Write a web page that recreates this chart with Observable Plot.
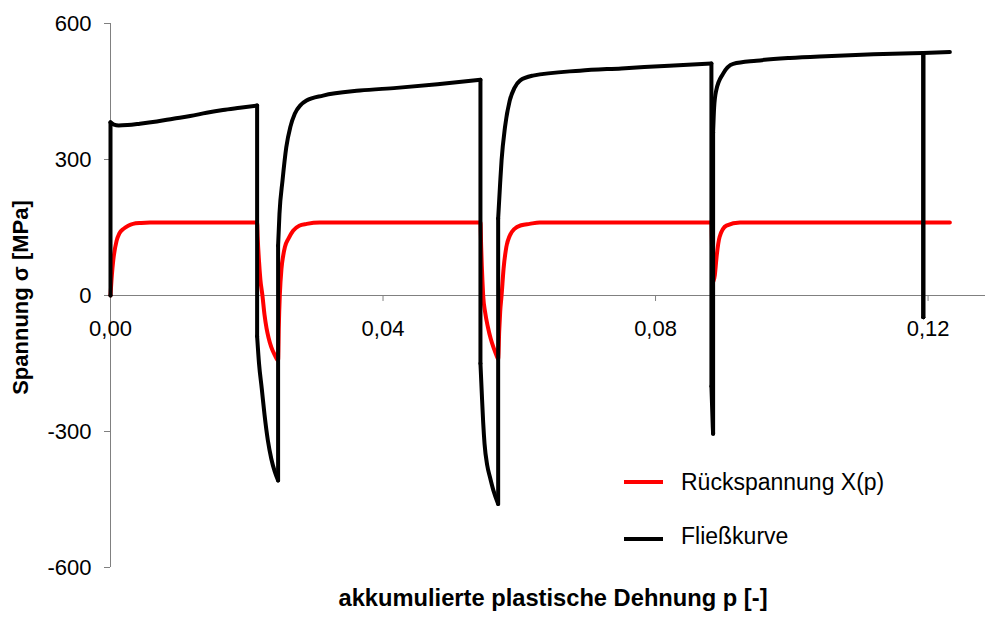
<!DOCTYPE html>
<html><head><meta charset="utf-8">
<script src="https://cdn.jsdelivr.net/npm/d3@7"></script>
<script src="https://cdn.jsdelivr.net/npm/@observablehq/plot@0.6"></script>
<style>
body{margin:0;background:#fff;font-family:"Liberation Sans",Arial,sans-serif;}
#wrap{position:relative;width:988px;height:619px;}
.sw{position:absolute;left:624px;width:39px;height:4px;}
.lt{position:absolute;left:681px;font-size:23px;line-height:26px;color:#000;white-space:nowrap;}
</style></head><body>
<div id="wrap"></div>
<script>
const xTicks = [0, 0.04, 0.08, 0.12];
const yTicks = [-600, -300, 0, 300, 600];
const seriesNames = ["Rückspannung X(p)", "Fließkurve"];

const pRueck = [
  0, 0.0002, 0.0004, 0.0009, 0.0013, 0.0019, 0.0026, 0.0033, 0.0045, 0.0058, 0.02152,
  0.0216, 0.0218, 0.0220, 0.0223, 0.0226, 0.0229, 0.0232, 0.0236, 0.0241, 0.0246,
  0.0247, 0.02485, 0.0251, 0.02535, 0.0256, 0.0261, 0.0268, 0.0277, 0.0288, 0.0307, 0.0543,
  0.0544, 0.0545, 0.0546, 0.0547, 0.0550, 0.0554, 0.0558, 0.0562, 0.0566, 0.0569,
  0.05705, 0.0572, 0.0574, 0.0577, 0.0581, 0.0586, 0.0593, 0.0603, 0.0615, 0.0630, 0.0882,
  0.0883, 0.0884, 0.08845, 0.0887, 0.08895, 0.0894, 0.0904, 0.0924, 0.1232
];
const sRueck = [
  0, 45, 77, 121, 137, 147, 154, 158, 160, 161, 161,
  130, 75, 35, 0, -42, -72, -93, -114, -131, -143,
  -70, 0, 60, 88, 107, 125, 143, 154, 158, 161, 161,
  110, 65, 30, 0, -38, -70, -95, -114, -130, -140,
  -80, -35, 0, 60, 107, 132, 147, 155, 158, 161, 161,
  100, 55, 30, 45, 84, 129, 154, 161, 161
];

const pFliess = [
  0, 0, 0.0005, 0.0012, 0.0025, 0.0043, 0.0068, 0.0092, 0.0117, 0.0141, 0.0165, 0.019, 0.02152,
  0.02152, 0.0218, 0.0222, 0.0226, 0.0231, 0.0236, 0.0241, 0.0246,
  0.0246, 0.0248, 0.02525, 0.0258, 0.0264, 0.02705, 0.0279, 0.02877, 0.0312, 0.0366, 0.042, 0.048, 0.0543,
  0.0543, 0.0545, 0.0547, 0.0549, 0.0553, 0.0557, 0.0562, 0.0569,
  0.0569, 0.0572, 0.0574, 0.0579, 0.0586, 0.0593, 0.0601, 0.062, 0.0689, 0.075, 0.082, 0.0882,
  0.0882, 0.0884, 0.08845, 0.08845, 0.0886, 0.0889, 0.0899, 0.0914, 0.0948, 0.0997, 0.105, 0.112, 0.1193,
  0.1193, 0.1193, 0.1232
];
const sFliess = [
  0, 382, 377, 375, 376, 379, 384, 390, 396, 403, 409, 414, 419,
  -90, -150, -205, -262, -320, -360, -388, -408,
  110, 180, 254, 327, 372, 401, 420, 430, 441, 452, 458, 466, 476,
  -150, -217, -280, -327, -375, -401, -430, -460,
  170, 250, 298, 371, 430, 458, 474, 485, 496, 501, 507, 512,
  -200, -290, -305, 360, 415, 452, 489, 511, 518, 524, 528, 532, 535,
  -48, 535, 537
];

// Split a series into monotone pieces at vertical (elastic) jumps so that each
// piece can be drawn with a smooth monotone curve.
function pieces(ps, ss) {
  const out = [];
  let seg = 0;
  for (let i = 0; i < ps.length; i++) {
    if (i > 0 && ps[i] === ps[i - 1]) {
      seg++;
      out.push({p: ps[i - 1], s: ss[i - 1], seg});
      out.push({p: ps[i], s: ss[i], seg});
      seg++;
    }
    out.push({p: ps[i], s: ss[i], seg});
  }
  return out;
}
const rueck = pieces(pRueck, sRueck);
const fliess = pieces(pFliess, sFliess);
const axisGray = "#808080";

const chart = Plot.plot({
  width: 988, height: 619,
  marginLeft: 110, marginRight: 3, marginTop: 23, marginBottom: 52,
  style: {fontFamily: "'Liberation Sans', Arial, sans-serif", fontSize: "22px", background: "#fff", color: "#000"},
  x: {domain: [0, 0.12843], axis: null},
  y: {domain: [-600, 600], axis: null},
  marks: [
    Plot.ruleY([0], {stroke: axisGray, strokeWidth: 1}),
    Plot.ruleX([0], {y1: -600, y2: 600, stroke: axisGray, strokeWidth: 1}),
    Plot.ruleX(xTicks.filter(d => d > 0), {x: d => d, y1: 0, y2: -13.2, stroke: axisGray, strokeWidth: 1}),
    Plot.axisY(yTicks, {anchor: "left", tickSize: 6, tickPadding: 13, stroke: axisGray, fill: "#000", fontSize: 22, tickFormat: d => String(d), label: null}),
    Plot.text(xTicks, {x: d => d, y: 0, dy: 33, text: d => d.toFixed(2).replace(".", ","), fontSize: 22, fill: "#000"}),
    Plot.line(rueck, {x: "p", y: "s", z: "seg", stroke: "#ff0000", strokeWidth: 4, curve: "monotone-x"}),
    Plot.line(fliess, {x: "p", y: "s", z: "seg", stroke: "#000000", strokeWidth: 4, curve: "monotone-x"}),
    Plot.text(["akkumulierte plastische Dehnung p [-]"], {frameAnchor: "bottom", dx: 5, dy: 38, fontWeight: "bold", fontSize: 23.7, fill: "#000"}),
    Plot.text(["Spannung σ [MPa]"], {frameAnchor: "left", textAnchor: "middle", dx: -90, dy: 2, rotate: -90, fontWeight: "bold", fontSize: 22, fill: "#000"})
  ]
});
const wrap = document.getElementById("wrap");
wrap.appendChild(chart);
const legendColors = ["#ff0000", "#000000"];
const legendTops = [480, 537];
seriesNames.forEach((name, i) => {
  const sw = document.createElement("div");
  sw.className = "sw"; sw.style.top = legendTops[i] + "px"; sw.style.background = legendColors[i];
  wrap.appendChild(sw);
  const t = document.createElement("div");
  t.className = "lt"; t.style.top = (legendTops[i] + 2 - 13 - (i === 1 ? 3 : 0)) + "px"; t.textContent = name;
  wrap.appendChild(t);
});
</script>
</body></html>
